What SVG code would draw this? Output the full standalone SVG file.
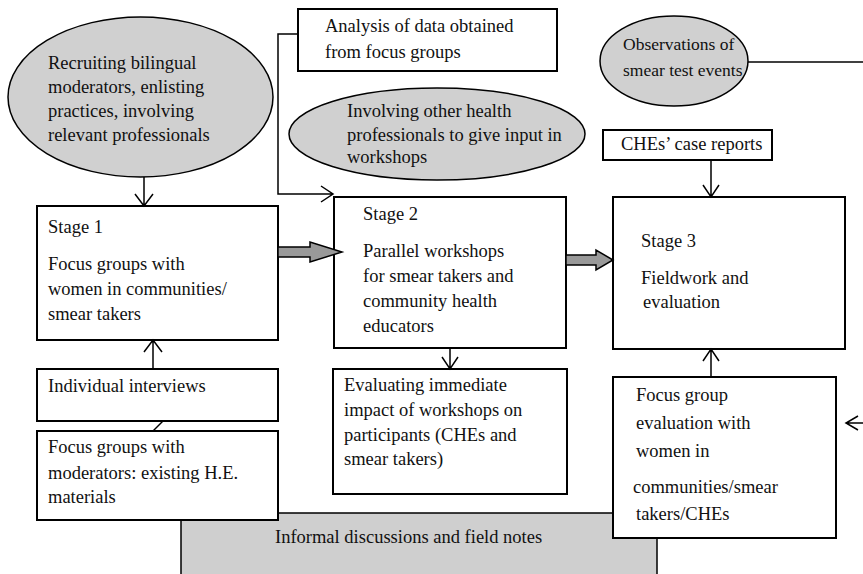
<svg xmlns="http://www.w3.org/2000/svg" width="863" height="574" viewBox="0 0 863 574">
<style>
text{font-family:"Liberation Serif","Times New Roman",serif;font-size:18.5px;fill:#111}
.sm{font-size:17.5px}
.box{fill:#fff;stroke:#000;stroke-width:2}
.ell{fill:#d0d0d0;stroke:#000;stroke-width:1.5}
.gray{fill:#cfcfcf;stroke:#000;stroke-width:1.5}
.ln{fill:none;stroke:#000;stroke-width:1.5}
.blk{fill:#999;stroke:#000;stroke-width:1.5;stroke-linejoin:miter}
</style>
<rect width="863" height="574" fill="#fff"/>
<g id="informal">
<rect class="gray" x="181" y="513" width="476" height="64"/>
<text x="275" y="543">Informal discussions and field notes</text>
</g>
<g id="recruiting">
<ellipse class="ell" cx="140.5" cy="97" rx="132.5" ry="80"/>
<text x="48" y="69">Recruiting bilingual</text>
<text x="48" y="93">moderators, enlisting</text>
<text x="48" y="117">practices, involving</text>
<text x="48" y="141">relevant professionals</text>
</g>
<g id="analysis">
<rect class="box" x="298" y="9" width="259" height="62"/>
<text x="325" y="32">Analysis of data obtained</text>
<text x="325" y="58">from focus groups</text>
</g>
<g id="involving">
<ellipse class="ell" cx="437" cy="134" rx="148" ry="46"/>
<text x="347" y="117">Involving other health</text>
<text x="347" y="141">professionals to give input in</text>
<text x="347" y="163">workshops</text>
</g>
<g id="observations">
<ellipse class="ell" cx="674" cy="61" rx="74" ry="45"/>
<text class="sm" x="623" y="50">Observations of</text>
<text class="sm" x="623" y="76">smear test events</text>
</g>
<g id="reports">
<rect class="box" x="603" y="130" width="169" height="30"/>
<text x="621" y="150">CHEs’ case reports</text>
</g>
<g id="stage1">
<rect class="box" x="37" y="206" width="241" height="134"/>
<text x="48" y="233">Stage 1</text>
<text x="48" y="270">Focus groups with</text>
<text x="48" y="295">women in communities/</text>
<text x="48" y="320">smear takers</text>
</g>
<g id="stage2">
<rect class="box" x="334" y="197" width="232" height="151"/>
<text x="363" y="220">Stage 2</text>
<text x="363" y="257">Parallel workshops</text>
<text x="363" y="282">for smear takers and</text>
<text x="363" y="307">community health</text>
<text x="363" y="332">educators</text>
</g>
<g id="stage3">
<rect class="box" x="613" y="197" width="232" height="152"/>
<text x="641" y="247">Stage 3</text>
<text x="641" y="284">Fieldwork and</text>
<text x="643" y="308">evaluation</text>
</g>
<g id="interviews">
<rect class="box" x="37" y="369" width="241" height="52"/>
<text x="48" y="392">Individual interviews</text>
</g>
<g id="moderators">
<rect class="box" x="37" y="431" width="241" height="89"/>
<text x="48" y="453">Focus groups with</text>
<text x="48" y="479">moderators: existing H.E.</text>
<text x="48" y="503">materials</text>
</g>
<g id="evaluating">
<rect class="box" x="333" y="369" width="234" height="125"/>
<text x="344" y="391">Evaluating immediate</text>
<text x="344" y="416">impact of workshops on</text>
<text x="344" y="441">participants (CHEs and</text>
<text x="344" y="465">smear takers)</text>
</g>
<g id="fgeval">
<rect class="box" x="613" y="377" width="223" height="161"/>
<text x="636" y="401">Focus group</text>
<text x="636" y="429">evaluation with</text>
<text x="636" y="457">women in</text>
<text x="633" y="493">communities/smear</text>
<text x="636" y="520">takers/CHEs</text>
</g>
<g id="connectors">
<path class="ln" d="M144 177V206M135 194L144 206L153 194"/>
<path class="ln" d="M298 34H278V194H333M321 186L333 194L321 202"/>
<path class="ln" d="M153 369V340M144 352L153 340L162 352"/>
<path class="ln" d="M163 421L153 431"/>
<path class="ln" d="M450 348V369M442 357L450 369L458 357"/>
<path class="ln" d="M711 160V197M703 185L711 197L719 185"/>
<path class="ln" d="M711 377V349M703 361L711 349L719 361"/>
<path class="ln" d="M748 62H863"/>
<path class="ln" d="M858 416L846 423L858 430M846 423H863"/>
<path class="blk" d="M278 247H310V242L342 252L310 262V257H278Z"/>
<path class="blk" d="M566 255H596V250L613 260L596 270V265H566Z"/>
</g>
</svg>
